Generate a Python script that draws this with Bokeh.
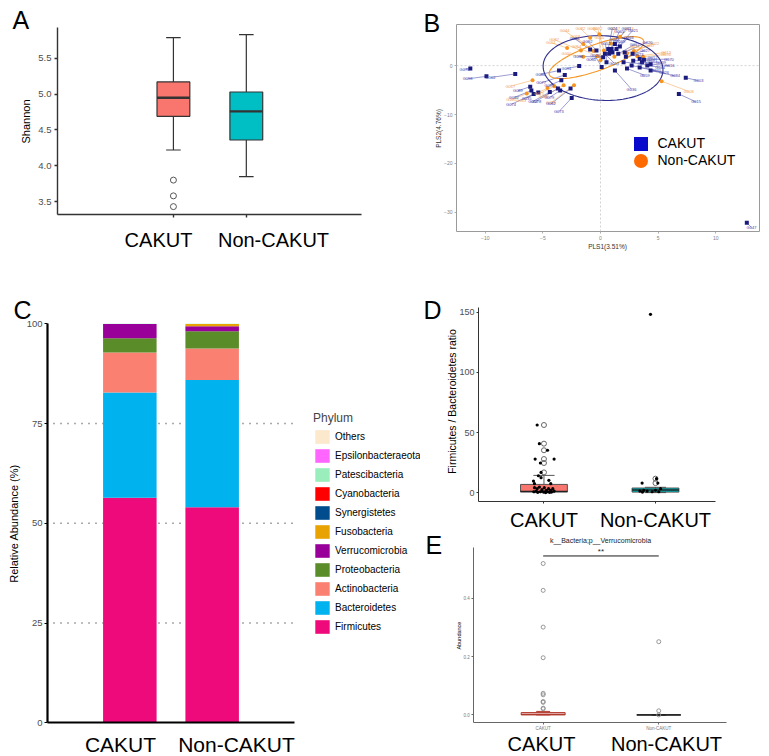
import numpy as np
from bokeh.plotting import figure
from bokeh.models import (ColumnDataSource, Range1d, FixedTicker, Label, Legend,
                          LegendItem, PrintfTickFormatter)
from bokeh.layouts import row, column
from bokeh.embed import file_html
from bokeh.resources import INLINE
from bokeh.core.properties import value

FONT = "Liberation Sans"
GREY_TXT = "#4D4D4D"

groups = ["CAKUT", "Non-CAKUT"]
group_pos = [1, 2]
group_fill = ["#F8766D", "#00BFC4"]

# ---------------- Panel A : Shannon diversity ----------------
shannon_whisk_low = [4.22, 3.85]
shannon_q1 = [4.69, 4.36]
shannon_median = [4.95, 4.76]
shannon_q3 = [5.17, 5.03]
shannon_whisk_high = [5.79, 5.83]
shannon_outlier_group = [0, 0, 0]
shannon_outliers = [3.80, 3.58, 3.43]
shannon_ticks = [3.5, 4.0, 4.5, 5.0, 5.5]

# ---------------- Panel B : PLS-DA ----------------
cakut_ids = ["G076", "G098", "G102", "G089", "G032", "G074", "G035", "G057", "G078", "G079",
             "G086", "G077", "G099", "G073", "G062", "G091", "G088", "G038", "G053", "G052",
             "G024", "G045", "G065", "G061", "G069", "G050", "G021", "G066", "G067", "G020",
             "G023", "G005", "G036", "G027", "G081", "G040", "G012", "G039", "G070", "G064",
             "G016", "G084", "G003", "G015", "G047", "G092", "G059", "G026", "G029"]
cakut_pls1 = [-11.3, -9.9, -7.4, -6.1, -6.0, -5.8, -5.4, -4.4, -3.7, -3.5,
              -3.6, -3.1, -3.4, -2.5, -2.6, -1.85, -0.9, 0.23, 0.38, 0.52,
              0.67, 0.81, 0.96, 1.25, 1.04, 0.75, 1.39, 1.68, 1.54, 2.1,
              2.2, 2.0, 1.25, 2.78, 2.84, 2.7, 3.4, 3.6, 3.77, 4.06,
              4.35, 4.35, 7.4, 6.8, 12.7, -0.35, 2.3, 3.4, 0.1]
cakut_pls2 = [-0.6, -2.2, -1.7, -4.3, -5.1, -5.8, -5.5, -5.4, -4.7, -5.1,
              -1.0, -1.9, -3.0, -6.6, -4.7, -0.1, 3.3, 1.7, 2.4, 0.7,
              3.4, 2.9, 3.4, 4.4, 2.7, 2.4, 3.4, 3.9, 2.4, 2.7,
              1.8, 0.7, -1.0, 2.4, 1.0, 0.0, 1.4, 0.7, 1.2, 0.0,
              0.3, -1.0, -2.5, -5.8, -32.1, 3.1, -0.6, -0.4, -0.3]
non_ids = ["G100", "G017", "G063", "G075", "G068", "G018", "G010", "G054", "G030", "G082",
           "G044", "G087", "G007", "G034", "G022", "G037", "G096", "G008", "G033", "G055",
           "G092", "G051", "G058", "G013"]
non_pls1 = [-6.4, -5.9, -4.6, -4.0, -3.2, -2.3, -1.5, -0.3, -0.1, -0.9,
            -1.5, -1.7, 0.9, 1.2, 2.3, 2.9, 3.7, 5.3, 1.7, 0.0,
            0.3, -2.9, -0.6, 3.2]
non_pls2 = [-5.7, -3.0, -4.6, -4.2, -4.0, -4.0, 1.8, 1.9, 6.4, 5.7,
            4.4, 3.1, 4.5, 1.8, 2.5, 3.0, 1.8, -3.2, 5.9, 1.1,
            3.1, 3.6, 3.0, 1.9]
# confidence ellipses: centre and two half-axis vectors (data units)
ell_cakut = dict(cx=0.22, cy=-0.5, ax=(5.2, -0.5), bx=(0.1, 6.6))
ell_non = dict(cx=-0.35, cy=1.63, ax=(4.09, 3.49), bx=(-0.39, 2.49))
pls_x_ticks = [-10, -5, 0, 5, 10]
pls_y_ticks = [-30, -20, -10, 0]

# ---------------- Panel C : phylum composition ----------------
phyla = ["Firmicutes", "Bacteroidetes", "Actinobacteria", "Proteobacteria", "Verrucomicrobia",
         "Fusobacteria", "Synergistetes", "Cyanobacteria", "Patescibacteria",
         "Epsilonbacteraeota", "Others"]
phyla_colors = ["#EE0A7A", "#00B2EE", "#FA8072", "#5B8C2A", "#990099",
                "#E8A202", "#004C8C", "#FF0000", "#99EEBB", "#FF66FF", "#FCE8CC"]
abund_cakut = [56.4, 26.4, 10.0, 3.6, 3.55, 0.01, 0.01, 0.01, 0.005, 0.005, 0.01]
abund_non = [54.0, 31.9, 7.9, 4.35, 1.25, 0.55, 0.02, 0.01, 0.01, 0.005, 0.005]
abund_ticks = [0, 25, 50, 75, 100]

# ---------------- Panel D : F/B ratio ----------------
fb_q1 = [0.5, 0.5]
fb_median = [1.1, 2.2]
fb_q3 = [6.9, 3.9]
fb_whisk_low = [0.1, 0.1]
fb_whisk_high = [14.4, 4.5]
fb_out_group = [0, 0, 0, 0, 0, 0, 1, 1]
fb_outliers = [56.3, 40.8, 35.3, 28.0, 24.7, 16.9, 11.7, 8.0]
fb_pt_group = [0] * 32 + [1] * 12
fb_pt_jitter = [-0.061, -0.041, 0.032, -0.079, 0.091, -0.032, -0.026, -0.05, -0.026, -0.094,
                0.044, -0.085, 0.061, -0.085, -0.061, -0.041, -0.018, 0.003, 0.02, 0.041,
                0.061, 0.079, -0.07, -0.032, -0.003, 0.032, 0.067, 0.091, -0.091, -0.056,
                0.05, 0.015,
                -0.045, -0.12, 0.009, 0.021, -0.14, -0.105, -0.075, -0.03, 0.0, 0.045, 0.03, -0.117]
fb_pt_value = [56.3, 40.8, 35.3, 28.0, 28.0, 24.7, 16.9, 14.1, 12.5, 9.7,
               10.3, 7.5, 7.5, 4.2, 3.4, 4.7, 2.5, 4.2, 2.0, 3.4,
               2.0, 3.4, 1.4, 0.8, 0.5, 0.8, 0.5, 1.4, 0.8, 0.3,
               0.3, 0.1,
               148.3, 8.0, 11.7, 8.0, 1.4, 2.0, 1.4, 0.8, 2.0, 3.4, 0.8, 0.5]
fb_ticks = [0, 50, 100, 150]

# ---------------- Panel E : Verrucomicrobia ----------------
verr_q1 = [0.0, 0.0]
verr_median = [0.002, 0.0]
verr_q3 = [0.008, 0.0]
verr_whisk_high = [0.012, 0.0]
verr_out_group = [0] * 10 + [1] * 3
verr_outliers = [0.519, 0.427, 0.301, 0.196, 0.074, 0.069, 0.046, 0.043, 0.023, 0.021,
                 0.251, 0.014, 0.0]
verr_ticks = [0.0, 0.2, 0.4]
verr_title = "k__Bacteria;p__Verrucomicrobia"
verr_signif = "**"


# ============== helpers ==============
class Panel:
    """A figure whose frame fills its whole canvas; the plotting panel is an inner box."""

    def __init__(self, box, inner, xr, yr):
        self.box, self.inner, self.xr, self.yr = box, inner, xr, yr
        W, H = box[2] - box[0], box[3] - box[1]
        dx = (xr[1] - xr[0]) / (inner[2] - inner[0])
        dy = (yr[1] - yr[0]) / (inner[3] - inner[1])
        self.dx, self.dy = dx, dy
        x0 = xr[0] - (inner[0] - box[0]) * dx
        x1 = xr[1] + (box[2] - inner[2]) * dx
        y0 = yr[0] - (box[3] - inner[3]) * dy
        y1 = yr[1] + (inner[1] - box[1]) * dy
        p = figure(width=W, height=H, x_range=Range1d(x0, x1), y_range=Range1d(y0, y1),
                   output_backend="svg", toolbar_location=None, min_border=0)
        p.title.visible = False
        p.outline_line_color = None
        p.xgrid.visible = False
        p.ygrid.visible = False
        p.background_fill_color = "white"
        p.border_fill_color = "white"
        xa, ya = p.xaxis[0], p.yaxis[0]
        xa.fixed_location = yr[0]
        xa.bounds = xr
        ya.fixed_location = xr[0]
        ya.bounds = yr
        self.p = p

    def style_axes(self, tick_size, tick_color, line_color, line_width, tick_out=3):
        for ax in (self.p.xaxis[0], self.p.yaxis[0]):
            ax.axis_line_color = line_color
            ax.axis_line_width = line_width
            ax.major_tick_line_color = line_color
            ax.major_tick_line_width = line_width
            ax.major_tick_in = 0
            ax.major_tick_out = tick_out
            ax.minor_tick_line_color = None
            ax.major_label_text_font = FONT
            ax.major_label_text_font_size = tick_size
            ax.major_label_text_color = tick_color

    def text(self, text, px, py, size, align="left", angle=0, color="black"):
        # (px, py): page position of the text's visual centre line
        self.p.add_layout(Label(x=px - self.box[0], y=self.box[3] - py, x_units="screen",
                                y_units="screen", text=text, text_font=FONT,
                                text_font_size=size, text_color=color, text_align=align,
                                text_baseline="middle", angle=angle, angle_units="deg"))

    def legend_loc(self, left_px, bottom_px):
        return (left_px - self.box[0], self.box[3] - bottom_px)


def boxplot(p, pos, q1, med, q3, lo, hi, fills, lines, width, cap, lw=1.0, med_w=2.0, med_color=None):
    src = ColumnDataSource(dict(
        x=pos, q1=q1, q3=q3, lo=lo, hi=hi, med=med, fill=fills, line=lines,
        bl=[x - width / 2 for x in pos], br=[x + width / 2 for x in pos],
        cl=[x - cap for x in pos], cr=[x + cap for x in pos]))
    p.segment(x0="x", x1="x", y0="q3", y1="hi", line_color="line", line_width=lw, source=src)
    p.segment(x0="x", x1="x", y0="lo", y1="q1", line_color="line", line_width=lw, source=src)
    if cap > 0:
        p.segment(x0="cl", x1="cr", y0="hi", y1="hi", line_color="line", line_width=lw, source=src)
        p.segment(x0="cl", x1="cr", y0="lo", y1="lo", line_color="line", line_width=lw, source=src)
    p.vbar(x="x", width=width, bottom="q1", top="q3", fill_color="fill", line_color="line",
           line_width=lw, source=src)
    p.segment(x0="bl", x1="br", y0="med", y1="med",
              line_color=med_color if med_color else "line", line_width=med_w, source=src)


# ============== Panel A ==============
A = Panel((0, 0, 380, 275), (57, 27, 361, 214), (-0.59, 3.58), (3.32, 5.93))
pA = A.p
A.style_axes("9.5px", GREY_TXT, "#333333", 1.4)
pA.xaxis.ticker = FixedTicker(ticks=group_pos)
pA.xaxis.major_label_text_color = None
pA.xaxis.major_label_standoff = 0
pA.yaxis.ticker = FixedTicker(ticks=shannon_ticks)
pA.yaxis.formatter = PrintfTickFormatter(format="%.1f")
pA.yaxis.major_label_standoff = 3
boxplot(pA, group_pos, shannon_q1, shannon_median, shannon_q3, shannon_whisk_low,
        shannon_whisk_high, group_fill, ["#333333"] * 2, 0.45, 0.1, lw=1.2, med_w=2.4)
pA.scatter(x=[group_pos[g] for g in shannon_outlier_group], y=shannon_outliers, marker="circle",
           size=6, fill_color=None, line_color="#555555", line_width=1)
A.text("A", 12, 19, "25px")
A.text("Shannon", 25, 121, "11px", align="center", angle=90)
A.text(groups[0], 158, 239.2, "20px", align="center")
A.text(groups[1], 273, 239.2, "20px", align="center")

# ============== Panel B ==============
B = Panel((380, 0, 769, 275), (456, 24, 759, 231), (-12.5, 13.8), (-33.9, 8.4))
pB = B.p
B.style_axes("5px", "#7F7F7F", "#9A9A9A", 0.8, tick_out=2)
pB.xaxis.axis_line_color = None
pB.yaxis.axis_line_color = None
pB.xaxis.ticker = FixedTicker(ticks=pls_x_ticks)
pB.yaxis.ticker = FixedTicker(ticks=pls_y_ticks)
pB.xaxis.major_label_standoff = 2
pB.yaxis.major_label_standoff = 2
xB, yB = B.xr, B.yr
pB.quad(left=[xB[0]], right=[xB[1]], bottom=[yB[0]], top=[yB[1]], fill_color=None,
        line_color="#9A9A9A", line_width=1)
pB.segment(x0=[0, xB[0]], x1=[0, xB[1]], y0=[yB[0], 0], y1=[yB[1], 0],
           line_color="#C8C8C8", line_width=0.8, line_dash="2 2")

sxB, syB = 1 / B.dx, 1 / B.dy   # px per data unit


def ellipse_xy(e, n=120):
    t = np.linspace(0, 2 * np.pi, n)
    xs = e["cx"] + np.cos(t) * e["ax"][0] + np.sin(t) * e["bx"][0]
    ys = e["cy"] + np.cos(t) * e["ax"][1] + np.sin(t) * e["bx"][1]
    return xs, ys


def repel(xs, ys, cx, cy, base=13):
    lx, ly = [], []
    for i, (x, y) in enumerate(zip(xs, ys)):
        ddx, ddy = (x - cx) * sxB, (y - cy) * syB
        a = np.arctan2(ddy, ddx) if np.hypot(ddx, ddy) > 8 else i * 2.4
        r = base + 6 * (i % 3)
        X = x + r * np.cos(a) / sxB
        Y = y + r * np.sin(a) / syB
        X = min(max(X, xB[0] + 8 / sxB), xB[1] - 8 / sxB)
        Y = min(max(Y, yB[0] + 4 / syB), yB[1] - 4 / syB)
        lx.append(X)
        ly.append(Y)
    return lx, ly


blue_pt, blue_txt = "#1B1B7E", "#3A3AA8"
orng_pt, orng_txt = "#F7941D", "#F4A04A"

lxc, lyc = repel(cakut_pls1, cakut_pls2, 0.5, 1.0)
lxn, lyn = repel(non_pls1, non_pls2, 0.5, 1.0, base=17)
srcBc = ColumnDataSource(dict(x=cakut_pls1, y=cakut_pls2, lx=lxc, ly=lyc, id=cakut_ids))
srcBn = ColumnDataSource(dict(x=non_pls1, y=non_pls2, lx=lxn, ly=lyn, id=non_ids))
pB.segment(x0="x", y0="y", x1="lx", y1="ly", line_color=orng_txt, line_width=0.5, source=srcBn)
pB.segment(x0="x", y0="y", x1="lx", y1="ly", line_color=blue_txt, line_width=0.5, source=srcBc)
ex, ey = ellipse_xy(ell_non)
pB.line(ex, ey, line_color="#F7941D", line_width=1.1)
ex, ey = ellipse_xy(ell_cakut)
pB.line(ex, ey, line_color="#2E2E8C", line_width=1.1)
pB.scatter(x="x", y="y", marker="circle", size=4, fill_color=orng_pt, line_color=None, source=srcBn)
pB.scatter(x="x", y="y", marker="square", size=4, fill_color=blue_pt, line_color=None, source=srcBc)
pB.text(x="lx", y="ly", text="id", text_font=value(FONT), text_font_size="4px",
        text_color=orng_txt, text_align="center", text_baseline="middle", source=srcBn)
pB.text(x="lx", y="ly", text="id", text_font=value(FONT), text_font_size="4px",
        text_color=blue_txt, text_align="center", text_baseline="middle", source=srcBc)

# legend keys (renderers that carry only the key style)
rb = pB.scatter(x=[np.nan], y=[np.nan], marker="square", size=4, fill_color="#0A0ACD", line_color=None)
ro = pB.scatter(x=[np.nan], y=[np.nan], marker="circle", size=4, fill_color="#FF6A00", line_color=None)
for r, name, cy in ((rb, groups[0], 143), (ro, groups[1], 160)):
    lg = Legend(items=[LegendItem(label=name, renderers=[r])],
                location=B.legend_loc(640 - 17.5, cy + 17.5),
                glyph_width=35, glyph_height=35, label_standoff=0, padding=0, margin=0,
                border_line_color=None, background_fill_alpha=0,
                label_text_font=FONT, label_text_font_size="14px", label_text_color="black")
    pB.add_layout(lg)
B.text("B", 423, 22.5, "25px")
B.text("PLS1(3.51%)", 607, 246, "6.5px", align="center", color="#333333")
B.text("PLS2(4.76%)", 438, 128, "6.5px", align="center", angle=90, color="#333333")

# ============== Panel C ==============
C = Panel((0, 275, 420, 756), (47, 323.3, 294, 722.3), (0, 3), (0, 100))
pC = C.p
C.style_axes("9.5px", GREY_TXT, "black", 2.2)
pC.xaxis.ticker = FixedTicker(ticks=group_pos)
pC.xaxis.major_label_text_color = None
pC.xaxis.major_tick_out = 0
pC.yaxis.ticker = FixedTicker(ticks=abund_ticks)
pC.yaxis.major_tick_line_width = 1.2
pC.yaxis.major_label_standoff = 2
grid_levels = abund_ticks[1:-1]
pC.segment(x0=[C.xr[0] + 6 * C.dx] * len(grid_levels), x1=[C.xr[1]] * len(grid_levels),
           y0=grid_levels, y1=grid_levels, line_color="#555555", line_width=1.4, line_dash="1 6")

srcC = ColumnDataSource(dict(x=group_pos, **{ph: [a, b] for ph, a, b in zip(phyla, abund_cakut, abund_non)}))
rs = pC.vbar_stack(phyla, x="x", width=0.65, fill_color=phyla_colors, line_color=None, source=srcC)
items = [LegendItem(label=ph, renderers=[r]) for ph, r in zip(phyla, rs)][::-1]
legC = Legend(items=items, location=C.legend_loc(313, 635), title="Phylum",
              glyph_width=18, glyph_height=17, spacing=2, padding=0, margin=0,
              label_standoff=4, label_height=17,
              label_text_font=FONT, label_text_font_size="10px", label_text_color="black",
              title_text_font=FONT, title_text_font_size="12px", title_text_font_style="normal",
              title_standoff=3, border_line_color=None, background_fill_alpha=0)
pC.add_layout(legC)
C.text("C", 13, 309, "25px")
C.text("Relative Abundance (%)", 13, 523, "11px", align="center", angle=90)
C.text(groups[0], 120, 744, "21px", align="center")
C.text(groups[1], 236, 744, "21px", align="center")

# ============== Panel D ==============
D = Panel((420, 275, 769, 532), (478, 307, 715, 501), (0.413, 2.538), (-7.3, 154))
pD = D.p
D.style_axes("9px", GREY_TXT, "#333333", 1.0, tick_out=2)
pD.xaxis.ticker = FixedTicker(ticks=group_pos)
pD.xaxis.major_label_overrides = {1: groups[0], 2: groups[1]}
pD.xaxis.major_label_text_font_size = "20px"
pD.xaxis.major_label_text_color = "black"
pD.xaxis.major_label_standoff = 5
pD.yaxis.ticker = FixedTicker(ticks=fb_ticks)
pD.yaxis.major_label_standoff = 2
boxplot(pD, group_pos, fb_q1, fb_median, fb_q3, fb_whisk_low, fb_whisk_high, group_fill,
        ["#444444"] * 2, 0.42, 0.095, lw=0.9, med_w=1.4, med_color="#222222")
pD.scatter(x=[group_pos[g] for g in fb_out_group], y=fb_outliers, marker="circle", size=5,
           fill_color=None, line_color="#666666", line_width=1)
pD.scatter(x=[group_pos[g] + j for g, j in zip(fb_pt_group, fb_pt_jitter)], y=fb_pt_value,
           marker="circle", size=3.2, fill_color="black", line_color=None)
D.text("D", 423, 309, "25px")
D.text("Firmicutes / Bacteroidetes ratio", 451, 401, "10.5px", align="center", angle=90)

# ============== Panel E ==============
E = Panel((420, 532, 769, 756), (473.3, 546.7, 726, 721.7), (0.40, 2.586), (-0.025, 0.575))
pE = E.p
E.style_axes("4.5px", "#777777", "#666666", 1.0, tick_out=2)
pE.xaxis.ticker = FixedTicker(ticks=group_pos)
pE.xaxis.major_label_overrides = {1: groups[0], 2: groups[1]}
pE.xaxis.major_label_standoff = 2
pE.yaxis.ticker = FixedTicker(ticks=verr_ticks)
pE.yaxis.formatter = PrintfTickFormatter(format="%.1f")
pE.yaxis.major_label_standoff = 2
boxplot(pE, group_pos, verr_q1, verr_median, verr_q3, verr_q1, verr_whisk_high,
        ["#F7D4D0", "#FFFFFF"], ["#B03A2E", "#222222"], 0.38, 0.06, lw=1.0, med_w=1.2)
pE.scatter(x=[group_pos[g] for g in verr_out_group], y=verr_outliers, marker="circle", size=4,
           fill_color=None, line_color="#8C8C8C", line_width=0.9)
y_sig = max(verr_outliers) * 1.05
pE.segment(x0=[group_pos[0]], x1=[group_pos[1]], y0=[y_sig], y1=[y_sig], line_color="black",
           line_width=0.9)
pE.text(x=[(group_pos[0] + group_pos[1]) / 2], y=[y_sig], text=[verr_signif], text_font=value(FONT),
        text_font_size="8px", text_align="center", text_baseline="bottom", text_color="#222222")
E.text(verr_title, 600, 540, "7px", align="center", color="#222222")
E.text("E", 425, 544, "25px")
E.text("Abundance", 458, 635, "5.5px", align="center", angle=90)
E.text(groups[0], 541, 743, "20px", align="center")
E.text(groups[1], 666, 743, "20px", align="center")

layout = column(row(pA, pB), row(pC, column(pD, pE)))
open("out.html", "w").write(file_html(layout, INLINE))
